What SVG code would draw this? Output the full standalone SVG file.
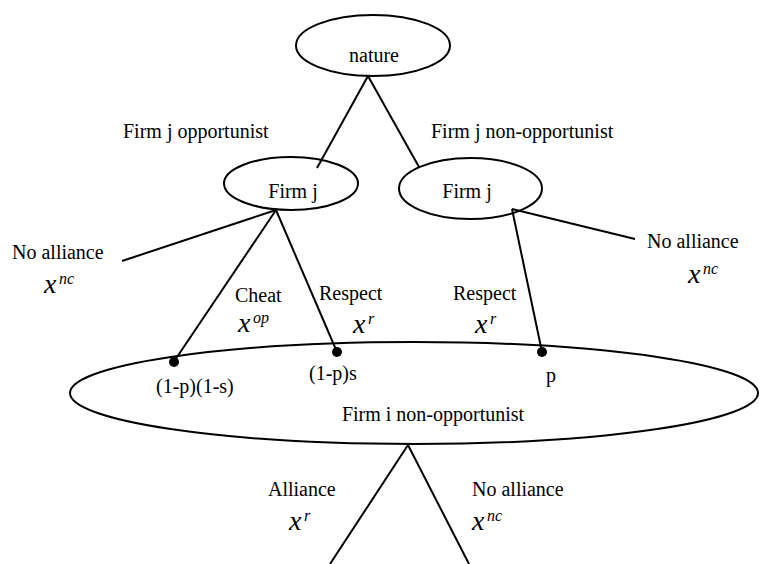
<svg xmlns="http://www.w3.org/2000/svg" width="760" height="564" viewBox="0 0 760 564">
<style>
  .node { fill: #fff; stroke: #000; stroke-width: 2; }
  .edge { stroke: #000; stroke-width: 2; fill: none; }
  .t { font-family: "Liberation Serif", "Times New Roman", serif; font-size: 20px; fill: #000; }
  .xv { font-family: "Liberation Serif", "Times New Roman", serif; font-style: italic; font-size: 28px; fill: #000; }
  .sup { font-family: "Liberation Serif", "Times New Roman", serif; font-style: italic; font-size: 16px; fill: #000; }
  .dot { fill: #000; }
</style>
<rect width="760" height="564" fill="#fff"/>

<g id="node-firm-i">
  <ellipse class="node" cx="414" cy="393" rx="344" ry="51"/>
  <text class="t" x="433" y="421" text-anchor="middle">Firm i non-opportunist</text>
</g>

<g id="connectors">
  <line class="edge" x1="368" y1="76" x2="317" y2="168"/>
  <line class="edge" x1="368" y1="76" x2="419" y2="167"/>
  <line class="edge" x1="276" y1="210" x2="122" y2="261"/>
  <line class="edge" x1="276" y1="210" x2="175" y2="360"/>
  <line class="edge" x1="276" y1="210" x2="337" y2="352"/>
  <line class="edge" x1="512" y1="209" x2="542" y2="352"/>
  <line class="edge" x1="512" y1="209" x2="635" y2="239"/>
  <line class="edge" x1="408" y1="445" x2="330" y2="564"/>
  <line class="edge" x1="408" y1="445" x2="469" y2="564"/>
</g>

<g id="node-nature">
  <ellipse class="node" cx="373" cy="45.5" rx="77" ry="30.5"/>
  <text class="t" x="374" y="62" text-anchor="middle">nature</text>
</g>

<g id="node-firm-j-opp">
  <ellipse class="node" cx="291" cy="183.5" rx="67" ry="26.5" style="fill:none"/>
  <text class="t" x="293" y="198" text-anchor="middle">Firm j</text>
</g>

<g id="node-firm-j-nonopp">
  <ellipse class="node" cx="470.5" cy="188.5" rx="71.5" ry="30.5" style="fill:none"/>
  <text class="t" x="467" y="198" text-anchor="middle">Firm j</text>
</g>

<g id="decision-points">
  <circle class="dot" cx="174" cy="362" r="5"/>
  <circle class="dot" cx="337" cy="352" r="5"/>
  <circle class="dot" cx="542" cy="352" r="5"/>
</g>

<g id="labels">
  <text class="t" x="123" y="138">Firm j opportunist</text>
  <text class="t" x="431" y="138">Firm j non-opportunist</text>

  <text class="t" x="12" y="259">No alliance</text>
  <text class="xv" x="44" y="293">x</text><text class="sup" x="59" y="284">nc</text>

  <text class="t" x="647" y="248">No alliance</text>
  <text class="xv" x="688" y="283">x</text><text class="sup" x="703" y="274">nc</text>

  <text class="t" x="235" y="302">Cheat</text>
  <text class="xv" x="238" y="332">x</text><text class="sup" x="253" y="323">op</text>

  <text class="t" x="319" y="300">Respect</text>
  <text class="xv" x="353" y="333">x</text><text class="sup" x="368" y="324">r</text>

  <text class="t" x="453" y="300">Respect</text>
  <text class="xv" x="475" y="333">x</text><text class="sup" x="490" y="324">r</text>

  <text class="t" x="156" y="393">(1-p)(1-s)</text>
  <text class="t" x="309" y="380">(1-p)s</text>
  <text class="t" x="546" y="382">p</text>

  <text class="t" x="268" y="496">Alliance</text>
  <text class="xv" x="289" y="530">x</text><text class="sup" x="304" y="521">r</text>

  <text class="t" x="472" y="496">No alliance</text>
  <text class="xv" x="472" y="530">x</text><text class="sup" x="487" y="521">nc</text>
</g>
</svg>
